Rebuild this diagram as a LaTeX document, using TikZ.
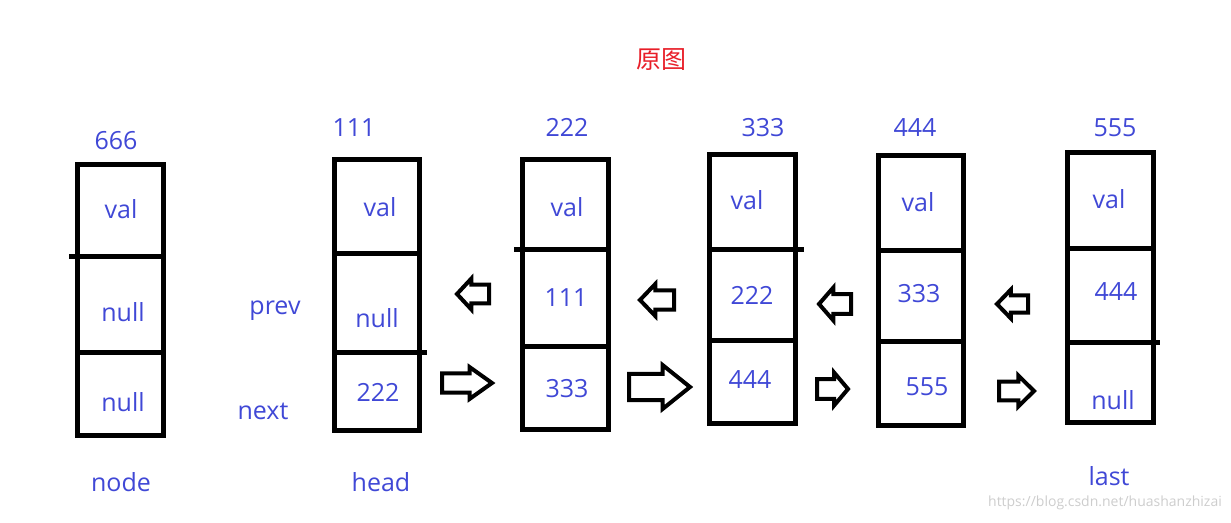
\documentclass[tikz,border=0pt]{standalone}
\usepackage{fontspec}
\setmainfont{Open Sans}
\newfontfamily\cjk{Noto Sans CJK SC}
\definecolor{txtblue}{RGB}{64,72,214}
\definecolor{titlered}{RGB}{232,30,40}
\definecolor{wm}{RGB}{205,205,205}
\newcommand\blkarrow[4]{% tail x, tip x, center y, height
  \draw[blockarrow] (#1,{#3-0.3*#4}) -- ({#2-0.45*(#2-#1)},{#3-0.3*#4}) -- ({#2-0.45*(#2-#1)},{#3-0.5*#4}) -- (#2,#3) -- ({#2-0.45*(#2-#1)},{#3+0.5*#4}) -- ({#2-0.45*(#2-#1)},{#3+0.3*#4}) -- (#1,{#3+0.3*#4}) -- cycle;}
\newcommand\listbox[8]{% x0,x1,y0,y1,d1,d2,name, ...
  \draw[boxline] (#1,#3) rectangle (#2,#4);
  \draw[boxline] (#1,#5) -- (#2,#5);
  \draw[boxline] (#1,#6) -- (#2,#6);
  \coordinate (#7) at ({(#1+#2)/2},{(#3+#4)/2});}
\tikzset{
  boxline/.style={line width=5pt, line cap=rect},
  blockarrow/.style={line width=4pt, line join=miter},
  lbl/.style={text=txtblue, font=\fontsize{25}{27}\selectfont, inner sep=0pt, anchor=center},
}
\begin{document}
\begin{tikzpicture}[x=1pt,y=-1pt]
\useasboundingbox (0,0) rectangle (1231,522);
% title
\node[text=titlered, font=\cjk\fontsize{25}{27}\selectfont, inner sep=0pt] (title) at (661,60) {原图};
% boxes
\listbox{77}{163}{164}{435}{256}{352}{b1}{}
\draw[boxline] (71,256) -- (77,256);
\listbox{334}{419}{159}{430}{253}{352}{b2}{}
\draw[boxline] (419,352) -- (424,352);
\listbox{522}{608}{159}{429}{249}{346}{b3}{}
\draw[boxline] (516,249) -- (522,249);
\listbox{709}{795}{154}{423}{249}{340}{b4}{}
\draw[boxline] (795,249) -- (801,249);
\listbox{878}{963}{155}{425}{250}{341}{b5}{}
\listbox{1067}{1153}{152}{422}{248}{342}{b6}{}
\draw[boxline] (1153,342) -- (1157,342);
% top labels
\node[lbl] (n666) at (116,141) {666};
\node[lbl] (n111) at (354,128) {111};
\node[lbl] (n222) at (567,127) {222};
\node[lbl] (n333) at (763,128) {333};
\node[lbl] (n444) at (915,128) {444};
\node[lbl] (n555) at (1115,128) {555};
% box contents
\node[lbl] (b1v) at (121,209) {val};
\node[lbl] (b1p) at (123,312) {null};
\node[lbl] (b1n) at (123,402) {null};
\node[lbl] (b2v) at (380,207) {val};
\node[lbl] (b2p) at (377,318) {null};
\node[lbl] (b2n) at (378,392) {222};
\node[lbl] (b3v) at (567,207) {val};
\node[lbl] (b3p) at (566,298) {111};
\node[lbl] (b3n) at (567,389) {333};
\node[lbl] (b4v) at (747,200) {val};
\node[lbl] (b4p) at (752,295) {222};
\node[lbl] (b4n) at (750,380) {444};
\node[lbl] (b5v) at (918,202) {val};
\node[lbl] (b5p) at (919,294) {333};
\node[lbl] (b5n) at (927,387) {555};
\node[lbl] (b6v) at (1109,199) {val};
\node[lbl] (b6p) at (1116,292) {444};
\node[lbl] (b6n) at (1113,400) {null};
% side and bottom labels
\node[lbl] (prev) at (275,311) {prev};
\node[lbl] (next) at (263,411) {next};
\node[lbl] (node) at (121,482) {node};
\node[lbl] (head) at (381,482) {head};
\node[lbl] (last) at (1109,476) {last};
% block arrows
\blkarrow{489}{457}{294}{31}
\blkarrow{674}{640}{300}{32}
\blkarrow{851}{819}{304}{33}
\blkarrow{1028}{997}{304}{29}
\blkarrow{442}{492}{383}{32}
\blkarrow{629}{690}{387}{44}
\blkarrow{817}{848}{389}{33}
\blkarrow{999}{1034}{391}{31}
% watermark
\node[text=wm, font=\fontsize{14}{16}\selectfont, inner sep=0pt] (wmark) at (1105,503) {https://blog.csdn.net/huashanzhizai};
\end{tikzpicture}
\end{document}
